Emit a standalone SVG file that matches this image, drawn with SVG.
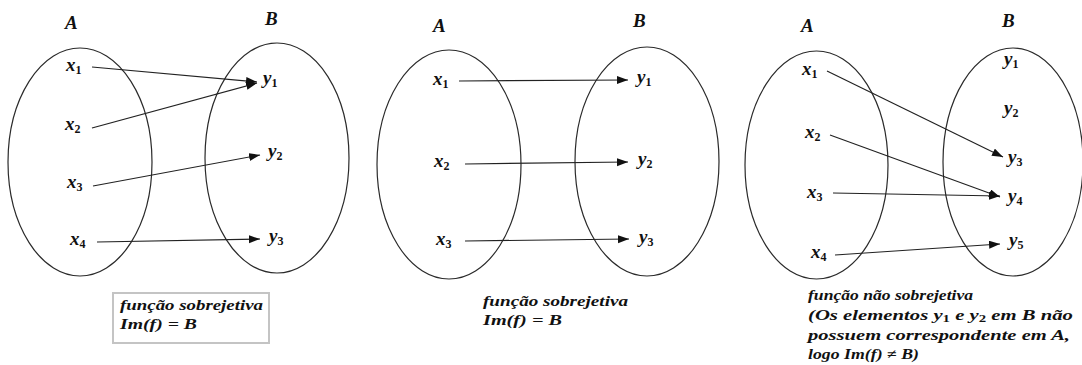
<svg xmlns="http://www.w3.org/2000/svg" width="1082" height="365" viewBox="0 0 1082 365">
<style>
.set{fill:none;stroke:#2a2a2a;stroke-width:1.2}
.t{font-family:"Liberation Serif","Times New Roman",serif;font-weight:bold;font-style:italic;fill:#111}
.lbl{font-size:19px}
.m{font-size:19px}
.sub{font-size:12px;font-style:normal}
.cap{font-size:14px}
.csub{font-size:10px;font-style:normal}
.conn line{stroke:#222;stroke-width:1.2;marker-end:url(#ah)}
</style>
<defs>
<marker id="ah" markerUnits="userSpaceOnUse" markerWidth="12" markerHeight="9" refX="11" refY="4" orient="auto">
<path d="M0,0 L11,4 L0,8 z" fill="#111"/>
</marker>
</defs>
<rect width="1082" height="365" fill="#fff"/>

<!-- Panel 1 -->
<g id="p1-A"><ellipse class="set" cx="80" cy="162" rx="72" ry="114"/><text class="t lbl" x="65" y="29">A</text></g>
<g id="p1-B"><ellipse class="set" cx="277" cy="158" rx="72" ry="115"/><text class="t lbl" x="265" y="25">B</text></g>
<g id="p1-x1"><text class="t m" x="66" y="71">x<tspan class="sub" dy="3">1</tspan></text></g>
<g id="p1-x2"><text class="t m" x="65" y="130">x<tspan class="sub" dy="3">2</tspan></text></g>
<g id="p1-x3"><text class="t m" x="67" y="188">x<tspan class="sub" dy="3">3</tspan></text></g>
<g id="p1-x4"><text class="t m" x="70" y="245">x<tspan class="sub" dy="3">4</tspan></text></g>
<g id="p1-y1"><text class="t m" x="263" y="84">y<tspan class="sub" dy="3">1</tspan></text></g>
<g id="p1-y2"><text class="t m" x="268" y="157">y<tspan class="sub" dy="3">2</tspan></text></g>
<g id="p1-y3"><text class="t m" x="269" y="242">y<tspan class="sub" dy="3">3</tspan></text></g>
<g id="p1-caption">
<rect x="113" y="293" width="156" height="50" fill="#fff" stroke="#c4c4c4" stroke-width="2"/>
<text class="t cap" x="120" y="310" textLength="143" lengthAdjust="spacingAndGlyphs">função sobrejetiva</text>
<text class="t cap" x="120" y="329" textLength="77" lengthAdjust="spacingAndGlyphs">Im(f) = B</text>
</g>

<!-- Panel 2 -->
<g id="p2-A"><ellipse class="set" cx="449" cy="164.5" rx="72" ry="114.5"/><text class="t lbl" x="433" y="32">A</text></g>
<g id="p2-B"><ellipse class="set" cx="647" cy="161.5" rx="72" ry="114.5"/><text class="t lbl" x="633" y="27">B</text></g>
<g id="p2-x1"><text class="t m" x="433" y="85">x<tspan class="sub" dy="3">1</tspan></text></g>
<g id="p2-x2"><text class="t m" x="434" y="167">x<tspan class="sub" dy="3">2</tspan></text></g>
<g id="p2-x3"><text class="t m" x="436" y="245">x<tspan class="sub" dy="3">3</tspan></text></g>
<g id="p2-y1"><text class="t m" x="637" y="83">y<tspan class="sub" dy="3">1</tspan></text></g>
<g id="p2-y2"><text class="t m" x="638" y="165">y<tspan class="sub" dy="3">2</tspan></text></g>
<g id="p2-y3"><text class="t m" x="639" y="243">y<tspan class="sub" dy="3">3</tspan></text></g>
<g id="p2-caption">
<text class="t cap" x="483" y="306" textLength="145" lengthAdjust="spacingAndGlyphs">função sobrejetiva</text>
<text class="t cap" x="483" y="325" textLength="79" lengthAdjust="spacingAndGlyphs">Im(f) = B</text>
</g>

<!-- Panel 3 -->
<g id="p3-A"><ellipse class="set" cx="816.5" cy="165" rx="71.5" ry="114"/><text class="t lbl" x="801" y="32">A</text></g>
<g id="p3-B"><ellipse class="set" cx="1013" cy="162" rx="70" ry="114"/><text class="t lbl" x="1002" y="27">B</text></g>
<g id="p3-x1"><text class="t m" x="802" y="75">x<tspan class="sub" dy="3">1</tspan></text></g>
<g id="p3-x2"><text class="t m" x="805" y="138">x<tspan class="sub" dy="3">2</tspan></text></g>
<g id="p3-x3"><text class="t m" x="807" y="198">x<tspan class="sub" dy="3">3</tspan></text></g>
<g id="p3-x4"><text class="t m" x="811" y="258">x<tspan class="sub" dy="3">4</tspan></text></g>
<g id="p3-y1"><text class="t m" x="1004" y="65">y<tspan class="sub" dy="3">1</tspan></text></g>
<g id="p3-y2"><text class="t m" x="1004" y="114">y<tspan class="sub" dy="3">2</tspan></text></g>
<g id="p3-y3"><text class="t m" x="1008" y="163">y<tspan class="sub" dy="3">3</tspan></text></g>
<g id="p3-y4"><text class="t m" x="1008" y="202">y<tspan class="sub" dy="3">4</tspan></text></g>
<g id="p3-y5"><text class="t m" x="1009" y="246">y<tspan class="sub" dy="3">5</tspan></text></g>
<g id="p3-caption">
<text class="t cap" x="808" y="300" textLength="165" lengthAdjust="spacingAndGlyphs">função não sobrejetiva</text>
<text class="t cap" x="808" y="320" textLength="265" lengthAdjust="spacingAndGlyphs">(Os elementos y<tspan class="csub" dy="2">1</tspan><tspan dy="-2"> e y</tspan><tspan class="csub" dy="2">2</tspan><tspan dy="-2"> em B não</tspan></text>
<text class="t cap" x="808" y="340" textLength="262" lengthAdjust="spacingAndGlyphs">possuem correspondente em A,</text>
<text class="t cap" x="808" y="359" textLength="111" lengthAdjust="spacingAndGlyphs">logo Im(f) ≠ B)</text>
</g>

<g id="connectors" class="conn">
<line x1="92" y1="67" x2="257" y2="82"/>
<line x1="92" y1="128" x2="257" y2="83"/>
<line x1="93" y1="186" x2="260" y2="155"/>
<line x1="97" y1="242" x2="260" y2="239"/>
<line x1="459" y1="81" x2="628" y2="80"/>
<line x1="465" y1="164" x2="628" y2="162"/>
<line x1="465" y1="241" x2="629" y2="239"/>
<line x1="827" y1="71" x2="1003" y2="157"/>
<line x1="830" y1="135" x2="1000" y2="197"/>
<line x1="833" y1="193" x2="1000" y2="196"/>
<line x1="835" y1="255" x2="1000" y2="244"/>
</g>
</svg>
